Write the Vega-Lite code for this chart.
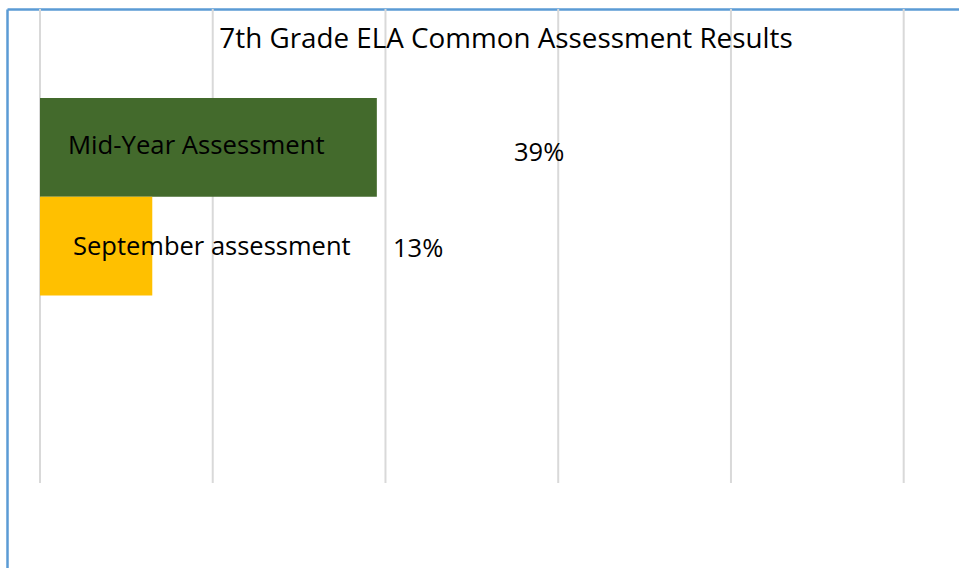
{
  "$schema": "https://vega.github.io/schema/vega-lite/v6.json",
  "width": 952,
  "height": 559,
  "autosize": {"type": "none"},
  "padding": {"left": 7, "top": 9, "right": 0, "bottom": 0},
  "background": "white",
  "config": {"view": {"stroke": null}, "font": "Open Sans"},
  "title": {
    "text": "7th Grade ELA Common Assessment Results",
    "frame": "group",
    "anchor": "middle",
    "orient": "top",
    "offset": 0,
    "baseline": "alphabetic",
    "dy": 68,
    "dx": 23,
    "fontSize": 27.8,
    "font": "Open Sans",
    "fontWeight": "normal",
    "color": "#000000"
  },
  "data": {
    "values": [
      {"assessment": "Mid-Year Assessment", "share": 0.39},
      {"assessment": "September assessment", "share": 0.13}
    ]
  },
  "resolve": {"scale": {"y": "independent"}},
  "layer": [
    {
      "data": {"values": [{"tick": 0}, {"tick": 0.2}, {"tick": 0.4}, {"tick": 0.6}, {"tick": 0.8}, {"tick": 1.0}]},
      "mark": {"type": "rule", "color": "#d9d9d9", "strokeWidth": 2},
      "encoding": {
        "x": {
          "field": "tick",
          "type": "quantitative",
          "scale": {"domain": [-0.038208, 1.06403], "nice": false, "zero": false},
          "axis": {"orient": "top", "domain": true, "domainColor": "#5B9BD5", "domainWidth": 2.5, "ticks": false, "labels": false, "grid": false, "title": null, "minExtent": 0, "maxExtent": 0}
        },
        "y": {
          "datum": 0,
          "type": "quantitative",
          "scale": {"domain": [0, 559], "reverse": true, "nice": false, "zero": false},
          "axis": {"orient": "left", "domain": true, "domainColor": "#5B9BD5", "domainWidth": 2.5, "ticks": false, "labels": false, "grid": false, "title": null, "minExtent": 0, "maxExtent": 0}
        },
        "y2": {"datum": 474}
      }
    },
    {
      "encoding": {
        "y": {
          "field": "assessment",
          "type": "nominal",
          "scale": {"domain": ["Mid-Year Assessment", "September assessment"], "range": [89, 286.4], "paddingInner": 0, "paddingOuter": 0},
          "axis": null
        }
      },
      "layer": [
        {
          "mark": {"type": "bar"},
          "encoding": {
            "x": {
              "field": "share",
              "type": "quantitative",
              "scale": {"domain": [-0.038208, 1.06403], "nice": false, "zero": false},
              "axis": {"orient": "top", "domain": true, "domainColor": "#5B9BD5", "domainWidth": 2.5, "ticks": false, "labels": false, "grid": false, "title": null, "minExtent": 0, "maxExtent": 0}
            },
            "color": {
              "field": "assessment",
              "type": "nominal",
              "scale": {"domain": ["Mid-Year Assessment", "September assessment"], "range": ["#436A2C", "#FFC000"]},
              "legend": null
            }
          }
        },
        {
          "transform": [{"filter": "datum.assessment == 'Mid-Year Assessment'"}],
          "mark": {"type": "text", "align": "left", "baseline": "alphabetic", "dx": 28, "dy": 6.6, "fontSize": 25.7, "font": "Open Sans", "color": "#000000"},
          "encoding": {"x": {"datum": 0, "type": "quantitative"}, "text": {"field": "assessment"}}
        },
        {
          "transform": [{"filter": "datum.assessment == 'September assessment'"}],
          "mark": {"type": "text", "align": "left", "baseline": "alphabetic", "dx": 33, "dy": 9.3, "fontSize": 25.5, "font": "Open Sans", "color": "#000000"},
          "encoding": {"x": {"datum": 0, "type": "quantitative"}, "text": {"field": "assessment"}}
        },
        {
          "transform": [{"filter": "datum.assessment == 'Mid-Year Assessment'"}],
          "mark": {"type": "text", "align": "left", "baseline": "alphabetic", "dx": 137.2, "dy": 13.3, "fontSize": 25.5, "font": "Open Sans", "color": "#000000"},
          "encoding": {"x": {"field": "share", "type": "quantitative"}, "text": {"field": "share", "type": "quantitative", "format": ".0%"}}
        },
        {
          "transform": [{"filter": "datum.assessment == 'September assessment'"}],
          "mark": {"type": "text", "align": "left", "baseline": "alphabetic", "dx": 240.7, "dy": 10.7, "fontSize": 25.5, "font": "Open Sans", "color": "#000000"},
          "encoding": {"x": {"field": "share", "type": "quantitative"}, "text": {"field": "share", "type": "quantitative", "format": ".0%"}}
        }
      ]
    }
  ]
}
